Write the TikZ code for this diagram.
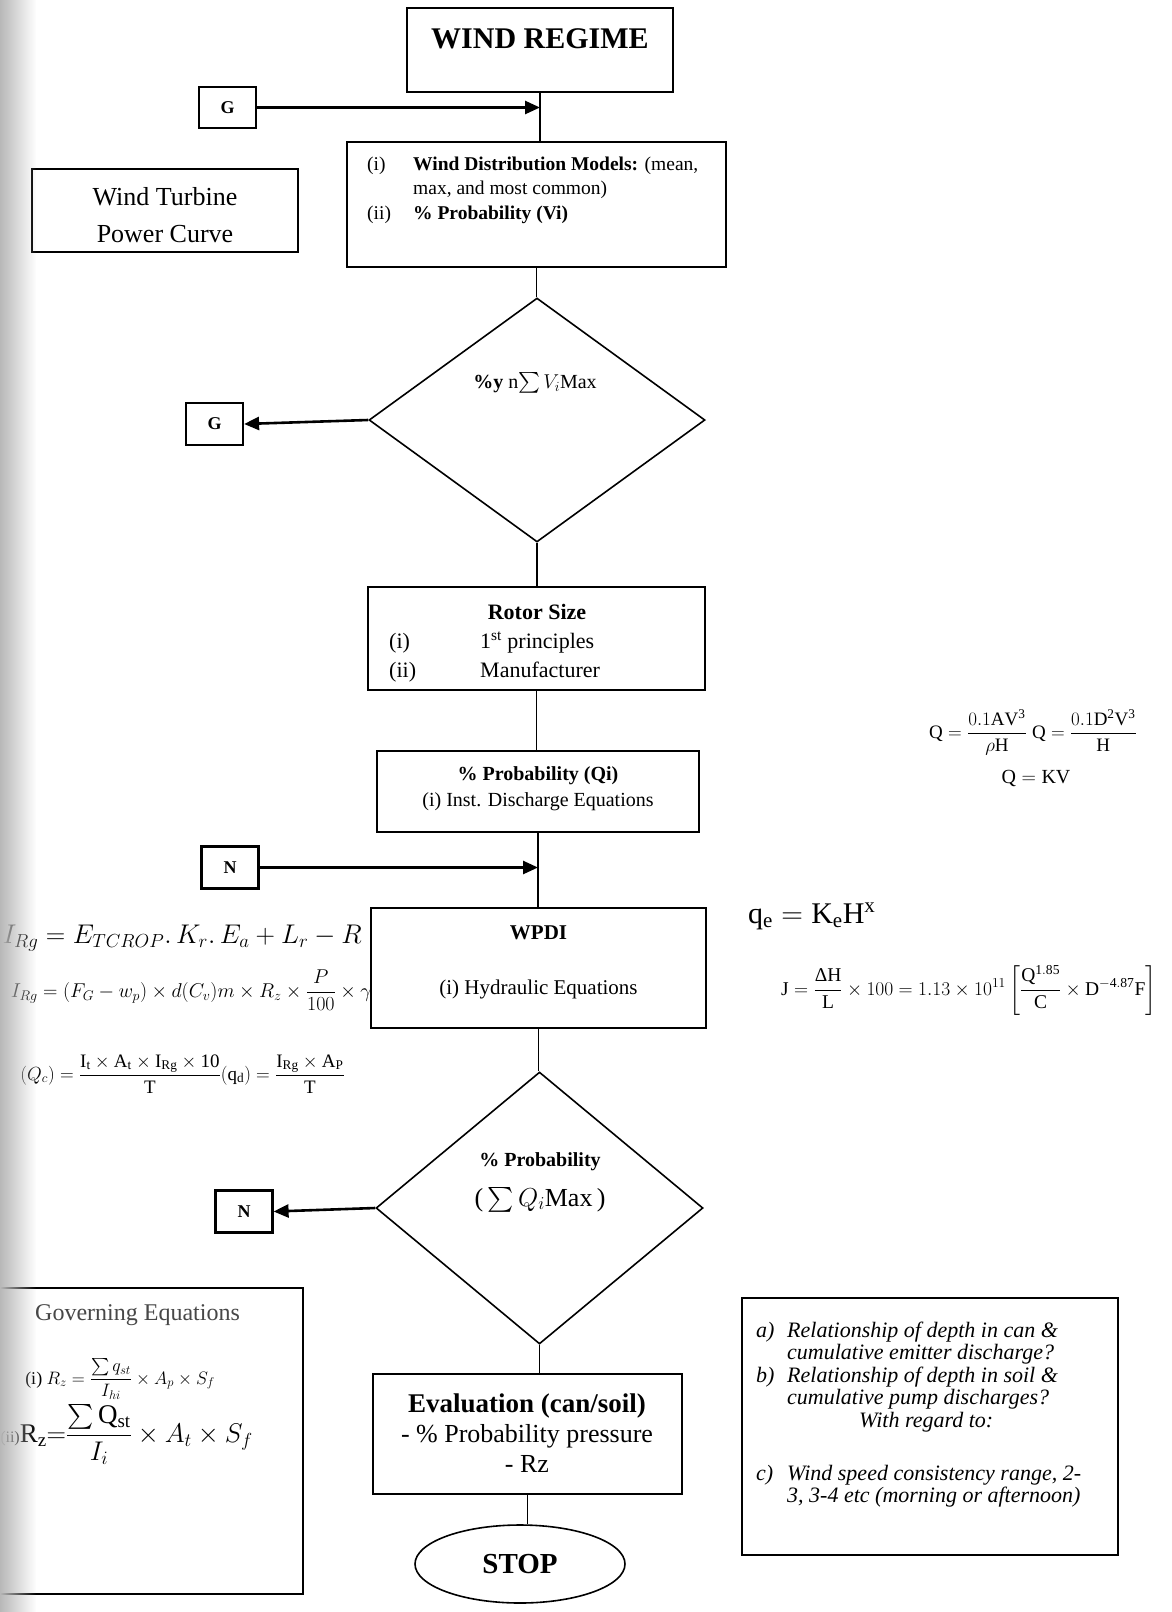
\RequirePackage{fix-cm}
\documentclass[tikz,border=0pt]{standalone}
\usepackage{amsmath}
\usepackage{fontspec}
\setmainfont{Liberation Serif}
\usetikzlibrary{arrows.meta,shapes.geometric,fadings}
\newcommand\fsz[2]{\fontsize{#1}{#2}\selectfont}
\tikzfading[name=fadetoright, left color=transparent!0, right color=transparent!100]

\begin{document}
\begin{tikzpicture}[x=1pt,y=-1pt,
  box/.style={draw, line width=2.2pt, fill=white, inner sep=0pt},
  smallbox/.style={box, minimum width=57pt, minimum height=42pt, font=\fsz{18}{22}\bfseries},
  dia/.style={draw, line width=1.6pt, shape=diamond, inner sep=0pt, fill=white},
  link/.style={line width=1.7pt},
  feed/.style={line width=2.6pt, -{Triangle[length=15pt,width=13pt]}},
  txt/.style={inner sep=0pt},
]
\useasboundingbox (0,0) rectangle (1171,1612);
\fill[white] (0,0) rectangle (1171,1612);

% --- wind regime and input boxes
\node[box, minimum width=266pt, minimum height=84pt] (regime) at (540,50) {};
\node[txt, anchor=base, font=\fsz{30}{36}\bfseries] (regimeT) at (540,48) {WIND REGIME};

\node[smallbox, minimum height=41pt] (g1) at (227.5,107.5) {G};

\node[box, minimum width=379pt, minimum height=125pt] (models) at (536.5,204.5) {};
\node[txt, anchor=base west, font=\fsz{19.5}{24.5}] (modelsT) at (367,170)
  {\begin{tabular}[t]{@{}p{46pt}@{}l@{}}(i)&\textbf{Wind Distribution Models:} (mean,\\
   &max, and most common)\\ (ii)&\textbf{\% Probability (Vi)}\end{tabular}};

\node[box, minimum width=266pt, minimum height=83pt] (curve) at (165,210.5) {};
\node[txt, anchor=base, font=\fsz{26}{37}] (curveT) at (165,205)
  {\begin{tabular}[t]{@{}c@{}}Wind Turbine\\Power Curve\end{tabular}};

% --- first decision
\node[dia, minimum width=336pt, minimum height=244pt] (vmax) at (537,420) {};
\node[txt, anchor=base, font=\fsz{20}{24}] (vmaxT) at (535,388) {\textbf{\%y} n$\sum V_i$Max};
\node[smallbox] (g2) at (214.5,424) {G};

% --- rotor size
\node[box, minimum width=337pt, minimum height=103pt] (rotor) at (536.5,638.5) {};
\node[txt, anchor=base, font=\fsz{22}{29}\bfseries] (rotorT) at (537,619) {Rotor Size};
\node[txt, anchor=base west, font=\fsz{22}{29}] (rotorL) at (389,648)
  {\begin{tabular}[t]{@{}p{91pt}@{}l@{}}(i)&1\textsuperscript{st} principles\\(ii)&Manufacturer\end{tabular}};

% --- discharge probability
\node[box, minimum width=322pt, minimum height=81pt] (qprob) at (538,791.5) {};
\node[txt, anchor=base, font=\fsz{20}{26}] (qprobT) at (538,780)
  {\begin{tabular}[t]{@{}c@{}}\textbf{\% Probability (Qi)}\\(i) Inst. Discharge Equations\end{tabular}};

\node[smallbox] (n1) at (230,867.5) {N};

% --- equations left of WPDI
\node[txt, anchor=base east, font=\fsz{27}{32}] (eqIrg) at (362,943)
  {$I_{Rg} = E_{TCROP}.\,K_r.\,E_a + L_r - R$};
\node[txt, anchor=base east, font=\fsz{20}{24}] (eqIrgB) at (377,997)
  {$I_{Rg} = \left(F_G - w_p\right)\times d(C_v)m\times R_z\times\dfrac{P}{100}\times\gamma_b$};
\node[txt, anchor=base east, font=\fsz{19}{23}] (eqQc) at (345,1080)
  {$(Q_c) = \dfrac{\mathrm{I_t\times A_t\times I_{Rg}\times 10}}{\mathrm{T}}(\mathrm{q_d}) = \dfrac{\mathrm{I_{Rg}\times A_P}}{\mathrm{T}}$};

% --- WPDI
\node[box, minimum width=335pt, minimum height=120pt] (wpdi) at (538.5,968) {};
\node[txt, anchor=base, font=\fsz{21}{26}\bfseries] (wpdiT) at (538.5,939) {WPDI};
\node[txt, anchor=base, font=\fsz{21}{26}] (wpdiL) at (538.5,994) {(i) Hydraulic Equations};

% --- equations on the right
\node[txt, anchor=base west, font=\fsz{19}{23}] (eqQ) at (929,738)
  {$\mathrm{Q} = \dfrac{0.1\mathrm{AV^3}}{\rho\mathrm{H}}\;\mathrm{Q} = \dfrac{0.1\mathrm{D^2V^3}}{\mathrm{H}}$};
\node[txt, anchor=base, font=\fsz{20}{24}] (eqKV) at (1036,783) {$\mathrm{Q = KV}$};
\node[txt, anchor=base west, font=\fsz{30}{36}] (eqQe) at (748,923) {$\mathrm{q_e = K_eH^x}$};
\node[txt, anchor=base west, font=\fsz{19.5}{23}] (eqJ) at (781,995)
  {$\mathrm{J} = \dfrac{\text{ΔH}}{\mathrm{L}}\times 100 = 1.13\times 10^{11}\left[\dfrac{\mathrm{Q^{1.85}}}{\mathrm{C}}\times\mathrm{D^{-4.87}F}\right]$};

% --- second decision
\node[dia, minimum width=327pt, minimum height=272pt] (qmax) at (539.5,1208) {};
\node[txt, anchor=base, font=\fsz{20}{24}\bfseries] (qmaxT) at (540,1166) {\% Probability};
\node[txt, anchor=base, font=\fsz{26}{30}] (qmaxM) at (540,1206) {(\,$\sum Q_i$Max\,)};
\node[smallbox] (n2) at (244,1211.5) {N};

% --- governing equations
\node[box, minimum width=307pt, minimum height=306pt, anchor=north west] (gov) at (-5,1287) {};
\node[txt, anchor=base west, font=\fsz{24}{28}, text=black!72] (govT) at (35,1320) {Governing Equations};
\node[txt, anchor=base east, font=\fsz{18}{22}] (govA) at (215,1384)
  {(i) $R_z = \dfrac{\sum q_{st}}{I_{hi}}\times A_p\times S_f$};
\node[txt, anchor=base east, font=\fsz{27}{32}] (govB) at (253,1442)
  {{\fsz{16}{20}(ii)}$\mathrm{R_z}{=}\dfrac{\sum\mathrm{Q_{st}}}{I_i}\times A_t\times S_f$};

% --- evaluation and stop
\node[box, minimum width=309pt, minimum height=120pt] (eval) at (527.5,1434) {};
\node[txt, anchor=base, font=\fsz{26}{30}] (evalT) at (527,1412)
  {\begin{tabular}[t]{@{}c@{}}\fsz{27}{30}\bfseries Evaluation (can/soil)\\- \% Probability pressure\\- Rz\end{tabular}};
\node[draw, ellipse, line width=1.6pt, minimum width=210pt, minimum height=78pt, inner sep=0pt,
      font=\fsz{29}{34}\bfseries] (stop) at (520,1564) {STOP};

% --- questions box
\node[box, minimum width=376pt, minimum height=257pt] (notes) at (930,1426.5) {};
\node[txt, anchor=base west, font=\fsz{22}{22.5}\itshape] (notesT) at (756,1337)
  {\begin{tabular}[t]{@{}p{31pt}@{}l@{}}a)&Relationship of depth in can \&\\
   &cumulative emitter discharge?\\
   b)&Relationship of depth in soil \&\\
   &cumulative pump discharges?\\
   \multicolumn{2}{@{}l@{}}{\hspace{103pt}With regard to:}\\[30.5pt]
   c)&Wind speed consistency range, 2-\\
   &3, 3-4 etc (morning or afternoon)\end{tabular}};

% --- connectors
\draw[link] (regime.south) -- (regime.south |- models.north);
\coordinate (gj) at (regime.south |- g1.east);
\draw[feed] (g1.east) -- (gj);
\draw[link] (models.south) -- (models.south |- vmax.north);
\draw[feed] (vmax.west) -- (g2.east);
\draw[link] (vmax.south) -- (vmax.south |- rotor.north);
\draw[link] (rotor.south) -- (rotor.south |- qprob.north);
\draw[link] (qprob.south) -- (qprob.south |- wpdi.north);
\coordinate (nj) at (qprob.south |- n1.east);
\draw[feed] (n1.east) -- (nj);
\draw[link] (wpdi.south) -- (wpdi.south |- qmax.north);
\draw[feed] (qmax.west) -- (n2.east);
\draw[link] (qmax.south) -- (qmax.south |- eval.north);
\draw[link] (eval.south) -- (eval.south |- stop.north);

% --- shadow along the bound edge of the page
\fill[black!28, path fading=fadetoright] (0,0) rectangle (36,1612);
\end{tikzpicture}
\end{document}
